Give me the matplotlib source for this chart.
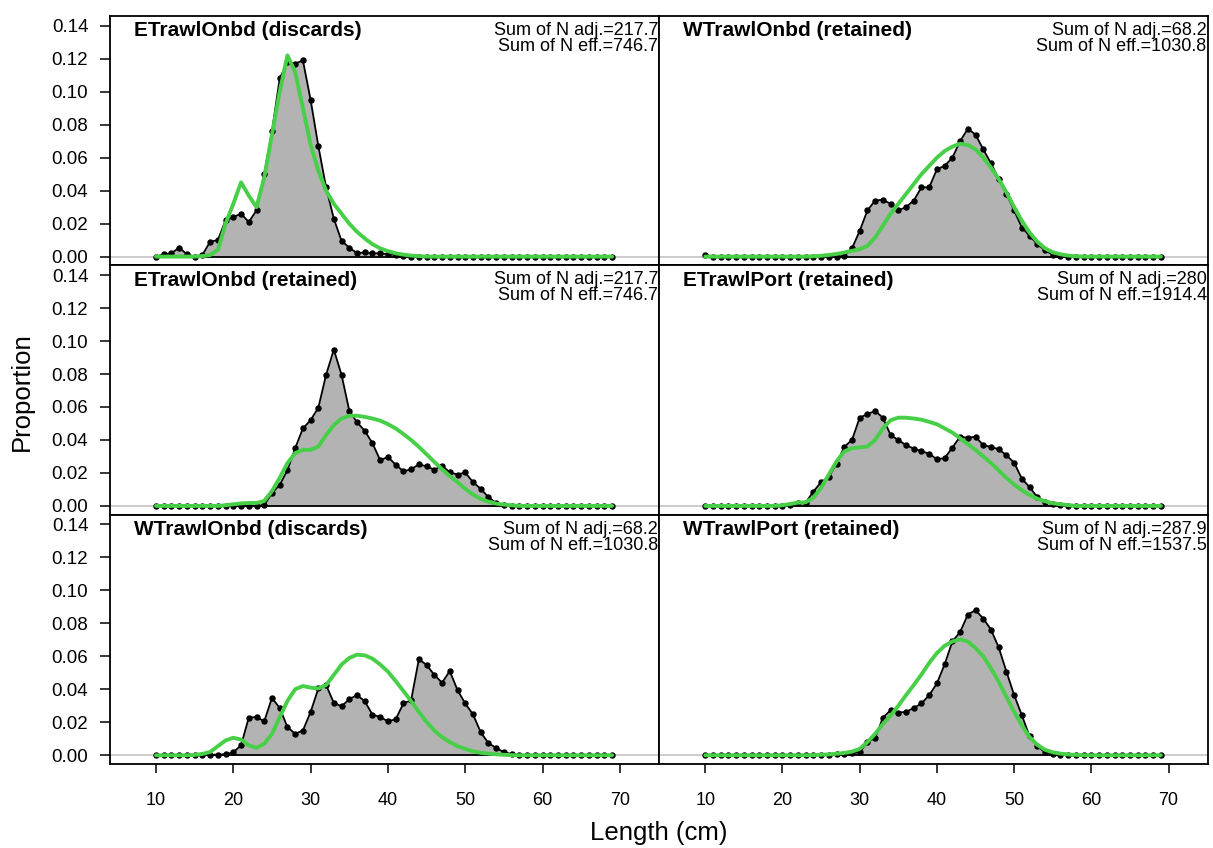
import numpy as np
import matplotlib.pyplot as plt

plt.rcParams['font.family'] = ['Liberation Sans', 'DejaVu Sans']

# length bins (cm)
lengths = np.arange(10, 70)

titles = ["ETrawlOnbd (discards)", "WTrawlOnbd (retained)",
          "ETrawlOnbd (retained)", "ETrawlPort (retained)",
          "WTrawlOnbd (discards)", "WTrawlPort (retained)"]
sum_adj = ["217.7", "68.2", "217.7", "280", "68.2", "287.9"]
sum_eff = ["746.7", "1030.8", "746.7", "1914.4", "1030.8", "1537.5"]

# observed proportions
obs_etrawl_disc = [0, 0.0014, 0.002, 0.0055, 0.0014, 0, 0.001, 0.009, 0.010, 0.022,
                   0.024, 0.026, 0.021, 0.028, 0.050, 0.076, 0.108, 0.118, 0.117, 0.119,
                   0.095, 0.067, 0.042, 0.023, 0.0095, 0.0055, 0.002, 0.0026, 0.002, 0.002,
                   0.0014, 0.001, 0.0004] + [0] * 27
obs_wtrawl_ret = [0.001] + [0] * 17 + \
                 [0.0004, 0.005, 0.0156, 0.028, 0.034, 0.0345, 0.032, 0.028, 0.030, 0.034,
                  0.042, 0.042, 0.053, 0.055, 0.060, 0.070, 0.0775, 0.074, 0.065, 0.0566,
                  0.047, 0.038, 0.028, 0.0176, 0.0126, 0.0075, 0.0039, 0.001, 0.0004] + [0] * 13
obs_etrawl_ret = [0] * 14 + \
                 [0.0006, 0.0077, 0.0128, 0.0216, 0.035, 0.047, 0.052, 0.0596, 0.0795, 0.0948,
                  0.0795, 0.0578, 0.0507, 0.0456, 0.038, 0.0277, 0.0297, 0.025, 0.021, 0.0222,
                  0.0252, 0.024, 0.022, 0.0243, 0.0205, 0.019, 0.0203, 0.0144, 0.0104, 0.0053,
                  0.0018, 0.0006] + [0] * 14
obs_eport_ret = [0] * 11 + \
                [0.0006, 0.0018, 0.002, 0.0087, 0.0144, 0.0175, 0.0256, 0.0358, 0.040, 0.0535,
                 0.0557, 0.0576, 0.0535, 0.043, 0.040, 0.0368, 0.0348, 0.0332, 0.0317, 0.0283,
                 0.029, 0.0354, 0.042, 0.0413, 0.042, 0.0368, 0.0358, 0.0344, 0.0307, 0.0262,
                 0.0165, 0.0114, 0.0053, 0.0026, 0.0014, 0.0006] + [0] * 13
obs_wtrawl_disc = [0] * 7 + \
                  [0.0003, 0.0004, 0.0006, 0.0018, 0.006, 0.0228, 0.0232, 0.0206, 0.0348, 0.0287,
                   0.0171, 0.013, 0.015, 0.0263, 0.0405, 0.0426, 0.0318, 0.0297, 0.034, 0.0365,
                   0.0328, 0.0246, 0.0232, 0.0206, 0.0218, 0.0314, 0.0334, 0.0582, 0.0548, 0.0487,
                   0.044, 0.0511, 0.0395, 0.0314, 0.0248, 0.014, 0.0073, 0.0045, 0.0018, 0.0008] + [0] * 13
obs_wport_ret = [0] * 16 + \
                [0.0003, 0.0006, 0.001, 0.0012, 0.0018, 0.008, 0.0104, 0.0228, 0.0273, 0.0259,
                 0.0263, 0.0287, 0.0314, 0.0365, 0.0436, 0.0552, 0.069, 0.0747, 0.0853, 0.088,
                 0.0829, 0.0762, 0.0654, 0.0507, 0.0365, 0.0242, 0.0114, 0.0055, 0.0018, 0.0008,
                 0.0004] + [0] * 13

# expected proportions
exp_etrawl_disc = [0] * 6 + \
                  [0.0003, 0.001, 0.004, 0.020, 0.032, 0.045, 0.037, 0.030, 0.048, 0.074,
                   0.100, 0.122, 0.112, 0.090, 0.068, 0.052, 0.040, 0.032, 0.026, 0.020,
                   0.015, 0.011, 0.0075, 0.005, 0.0033, 0.002, 0.0012, 0.0006, 0.0003] + [0] * 25
exp_wtrawl_ret = [0] * 14 + \
                 [0.0002, 0.0005, 0.001, 0.0016, 0.0025, 0.0035, 0.0045, 0.0065, 0.0116, 0.0187,
                  0.026, 0.032, 0.038, 0.044, 0.050, 0.055, 0.060, 0.064, 0.0667, 0.0684,
                  0.0677, 0.065, 0.060, 0.054, 0.047, 0.039, 0.030, 0.0217, 0.0146, 0.009,
                  0.005, 0.0026, 0.0014, 0.0006, 0.0002] + [0] * 11
exp_etrawl_ret = [0] * 9 + \
                 [0.0004, 0.001, 0.0015, 0.0018, 0.0018, 0.003, 0.009, 0.017, 0.026, 0.032,
                  0.034, 0.034, 0.036, 0.043, 0.049, 0.053, 0.0547, 0.0547, 0.054, 0.053,
                  0.0517, 0.0496, 0.047, 0.0436, 0.040, 0.0358, 0.0313, 0.0267, 0.0222, 0.0181,
                  0.0144, 0.0104, 0.0069, 0.0043, 0.0026, 0.0014, 0.0008, 0.0004] + [0] * 13
exp_eport_ret = [0] * 10 + \
                [0.0004, 0.0012, 0.002, 0.0022, 0.005, 0.011, 0.019, 0.027, 0.033, 0.035,
                 0.0355, 0.036, 0.040, 0.047, 0.052, 0.0535, 0.0535, 0.053, 0.0523, 0.051,
                 0.0495, 0.047, 0.0445, 0.041, 0.0375, 0.034, 0.030, 0.026, 0.0215, 0.017,
                 0.013, 0.0095, 0.0066, 0.0044, 0.0028, 0.0016, 0.001, 0.0005] + [0] * 12
exp_wtrawl_disc = [0] * 5 + \
                  [0.0002, 0.0008, 0.002, 0.0055, 0.009, 0.0106, 0.0095, 0.006, 0.0045, 0.007,
                   0.013, 0.023, 0.033, 0.040, 0.042, 0.041, 0.0405, 0.0426, 0.0487, 0.055,
                   0.059, 0.061, 0.0606, 0.0586, 0.055, 0.0507, 0.045, 0.039, 0.0328, 0.0263,
                   0.0202, 0.015, 0.011, 0.008, 0.0055, 0.0039, 0.0024, 0.0015, 0.001, 0.0006,
                   0.0003, 0.0001] + [0] * 13
exp_wport_ret = [0] * 14 + \
                [0.0001, 0.0003, 0.0005, 0.0009, 0.0014, 0.0022, 0.0039, 0.008, 0.013, 0.019,
                 0.024, 0.030, 0.0365, 0.0426, 0.049, 0.056, 0.062, 0.0664, 0.069, 0.0703,
                 0.069, 0.065, 0.060, 0.0527, 0.0446, 0.0354, 0.0263, 0.0181, 0.011, 0.0063,
                 0.0033, 0.0018, 0.001, 0.0005, 0.0002] + [0] * 11

observed = [obs_etrawl_disc, obs_wtrawl_ret, obs_etrawl_ret,
            obs_eport_ret, obs_wtrawl_disc, obs_wport_ret]
expected = [exp_etrawl_disc, exp_wtrawl_ret, exp_etrawl_ret,
            exp_eport_ret, exp_wtrawl_disc, exp_wport_ret]

W, H = 1213, 848
fig = plt.figure(figsize=(W / 100, H / 100), dpi=100)

left, mid, right = 110, 659.3, 1208
top, bottom = 16, 764
rowh = (bottom - top) / 3

green = '#48cf48'

for i in range(6):
    r, c = divmod(i, 2)
    x0 = left if c == 0 else mid
    w = (mid - left) if c == 0 else (right - mid)
    y0 = top + r * rowh
    ax = fig.add_axes([x0 / W, 1 - (y0 + rowh) / H, w / W, rowh / H])

    obs = np.array(observed[i])
    exp = np.array(expected[i])

    ax.axhline(0, color='#c8c8c8', lw=1.3, zorder=1)
    ax.fill_between(lengths, obs, 0, color='#b3b3b3', lw=0, zorder=2)
    ax.plot([lengths[0], lengths[-1]], [0, 0], color='black', lw=1.3, zorder=3)
    ax.plot(lengths, obs, color='black', lw=1.3, marker='o', ms=3.6, zorder=4)
    ax.plot(lengths, exp, color=green, lw=2.8, zorder=5, solid_capstyle='round')

    ax.set_xlim(4.05, 75.1)
    ax.set_ylim(-0.0053, 0.1459)
    ax.set_xticks([10, 20, 30, 40, 50, 60, 70])
    ax.set_yticks(np.arange(0, 0.141, 0.02))
    ax.tick_params(axis='y', length=7.2, width=1.1, pad=8.4, labelsize=13.5,
                   left=(c == 0), labelleft=(c == 0))
    ax.tick_params(axis='x', length=6.5, width=1.1, pad=13.5, labelsize=13,
                   bottom=(r == 2), labelbottom=(r == 2))
    ax.yaxis.set_major_formatter(plt.FormatStrFormatter('%.2f'))
    for s in ax.spines.values():
        s.set_linewidth(1.3)

    ax.text(24 / w, 1 - 15 / rowh, titles[i], transform=ax.transAxes,
            fontsize=15, fontweight='bold', ha='left', va='center')
    ax.text(1 - 1.3 / w, 1 - 14.5 / rowh, "Sum of N adj.=" + sum_adj[i],
            transform=ax.transAxes, fontsize=13, ha='right', va='center')
    ax.text(1 - 1.3 / w, 1 - 30.5 / rowh, "Sum of N eff.=" + sum_eff[i],
            transform=ax.transAxes, fontsize=13, ha='right', va='center')

fig.text(22 / W, 1 - 392 / H, "Proportion", rotation=90, fontsize=18.5,
         ha='center', va='center')
fig.text(659 / W, 1 - 833 / H, "Length (cm)", fontsize=18.5,
         ha='center', va='center')

plt.savefig("out.png", dpi=100)
